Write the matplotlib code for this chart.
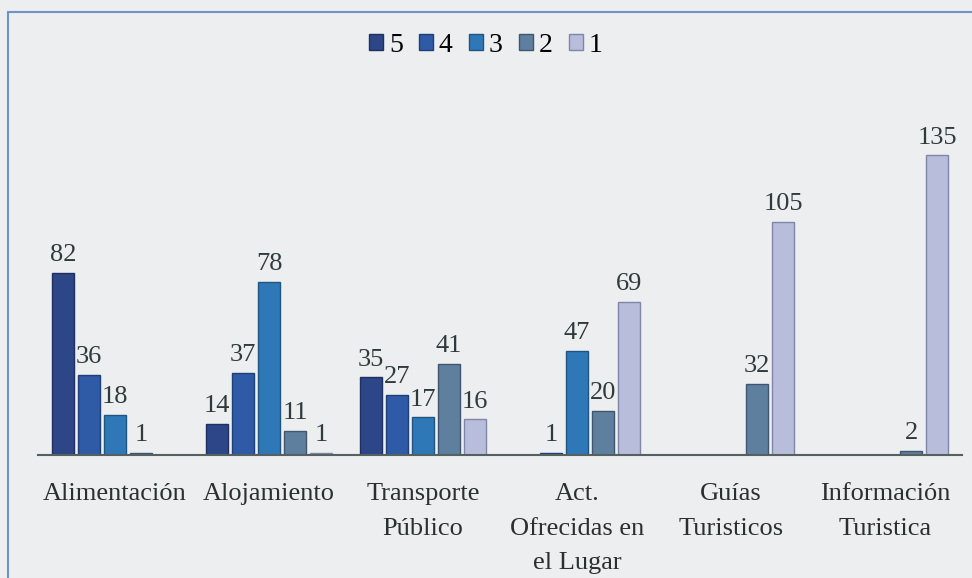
import numpy as np
import matplotlib.pyplot as plt
from matplotlib.patches import Rectangle

categories = ['Alimentación', 'Alojamiento', 'Transporte\nPúblico',
              'Act.\nOfrecidas en\nel Lugar', 'Guías\nTuristicos', 'Información\nTuristica']
series_names = ['5', '4', '3', '2', '1']
vals_5 = [82, 14, 35, np.nan, np.nan, np.nan]
vals_4 = [36, 37, 27, 1, np.nan, np.nan]
vals_3 = [18, 78, 17, 47, np.nan, np.nan]
vals_2 = [1, 11, 41, 20, 32, 2]
vals_1 = [np.nan, 1, 16, 69, 105, 135]

colors = ['#2d4688', '#2f5aa6', '#2f78b8', '#5f7f9f', '#b7bddb']
edges = ['#1f2f60', '#1f3f78', '#1f5580', '#3f5570', '#7f86a8']

plt.rcParams['font.family'] = ['Liberation Serif', 'DejaVu Serif']
bg = '#eceef0'

fig = plt.figure(figsize=(9.72, 5.78), dpi=100, facecolor=bg)
ax = fig.add_axes([38/972, 123/578, 924/972, 375/578])
ax.set_facecolor(bg)

# chart frame
fig.patches.append(Rectangle((8/972, -0.01), 1.0, 1 - 12/578 + 0.01,
                             transform=fig.transFigure, fill=False,
                             edgecolor='#6f93c2', linewidth=1.5))

x = np.arange(len(categories))
w = 0.143
step = 0.169
all_vals = [vals_5, vals_4, vals_3, vals_2, vals_1]
for i, (vals, name) in enumerate(zip(all_vals, series_names)):
    pos = x + (i - 2) * step
    v = np.array(vals, dtype=float)
    ax.bar(pos, v, width=w, color=colors[i], edgecolor=edges[i],
           linewidth=1.0, label=name)
    for px, pv in zip(pos, v):
        if not np.isnan(pv):
            ax.text(px, pv + 3, '%d' % pv, ha='center', va='bottom',
                    fontsize=19, color='#2f3a3a')

ax.set_xlim(-0.5, 5.5)
ax.set_ylim(0, 169)
ax.set_yticks([])
ax.set_xticks(x)
ax.set_xticklabels(categories, fontsize=19, color='#2a2f2f', linespacing=1.75)
ax.tick_params(axis='x', length=0, pad=20)
for s in ['top', 'right', 'left']:
    ax.spines[s].set_visible(False)
ax.spines['bottom'].set_color('#556060')
ax.spines['bottom'].set_linewidth(1.5)

leg = fig.legend(loc='center', bbox_to_anchor=(0.5, 0.922), ncol=5,
                 frameon=False, fontsize=20, handlelength=0.5, handleheight=0.5,
                 handletextpad=0.2, columnspacing=0.6)

fig.savefig('out.png', dpi=100, facecolor=bg)
